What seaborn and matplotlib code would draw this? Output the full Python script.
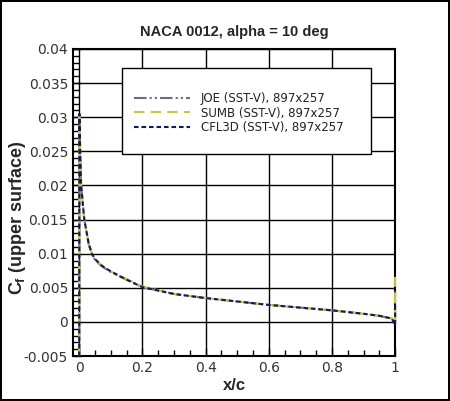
import numpy as np
import pandas as pd
import matplotlib
matplotlib.use("Agg")
import matplotlib.pyplot as plt
from matplotlib.patches import Rectangle
from matplotlib.ticker import MultipleLocator
import seaborn as sns

# Cf on the upper surface
x_c = [0.0, 0.0005, 0.002, 0.006, 0.016, 0.03, 0.04, 0.05, 0.07, 0.1,
       0.15, 0.2, 0.3, 0.4, 0.5, 0.6, 0.7, 0.8, 0.9, 0.95, 0.99, 1.0, 1.0]
cf_joe = [-0.005, 0.0303, 0.0268, 0.0200, 0.0150, 0.0114, 0.0099, 0.0091,
          0.0082, 0.0073, 0.0062, 0.0051, 0.0041, 0.0035, 0.0030, 0.0025,
          0.0021, 0.0017, 0.0012, 0.0009, 0.0005, -0.0004, 0.0045]
cf_sumb = [-0.005, 0.0300, 0.0265, 0.0198, 0.0150, 0.0115, 0.0100, 0.0092,
           0.0083, 0.0074, 0.0063, 0.0052, 0.0041, 0.0035, 0.0030, 0.0025,
           0.0021, 0.0017, 0.0012, 0.0009, 0.0005, -0.0003, 0.0066]
cf_cfl3d = [-0.005, 0.0305, 0.0270, 0.0200, 0.0150, 0.0115, 0.0100, 0.0092,
            0.0083, 0.0074, 0.0062, 0.0051, 0.0041, 0.0035, 0.0030, 0.0025,
            0.0021, 0.0017, 0.0012, 0.0009, 0.0005, -0.0005, 0.0025]

labels = ["JOE (SST-V), 897x257", "SUMB (SST-V), 897x257", "CFL3D (SST-V), 897x257"]
colors = ["#6e6e6e", "#c8c83c", "#16165e"]
dashes = [(6, 1.5, 1, 1.5, 1, 1.5), (5, 3), (2.2, 1.4)]

sns.set_style("white")
plt.rcParams["font.family"] = ["DejaVu Sans"]
plt.rcParams["mathtext.fontset"] = "custom"
plt.rcParams["mathtext.rm"] = "Liberation Sans:bold"
plt.rcParams["mathtext.it"] = "Liberation Sans:bold"

fig = plt.figure(figsize=(4.5, 4.01), dpi=100, linewidth=1.5, edgecolor="black")
ax = fig.add_axes([0.162, 0.112, 0.716, 0.766])

for cf, lab, col, d in zip([cf_joe, cf_sumb, cf_cfl3d], labels, colors, dashes):
    df = pd.DataFrame({"x": x_c, "cf": cf})
    sns.lineplot(data=df, x="x", y="cf", sort=False, estimator=None, ax=ax,
                 color=col, lw=1.5, label=lab, dashes=False)
    ax.lines[-1].set_dashes(d)
    # draw over the spines so the trailing-edge spike at x/c = 1 shows
    ax.lines[-1].set_zorder(3)
    ax.lines[-1].set_clip_on(False)

ax.set_xlim(-0.02, 1.0)
ax.set_ylim(-0.005, 0.04)
ax.xaxis.set_minor_locator(MultipleLocator(0.05))
ax.yaxis.set_minor_locator(MultipleLocator(0.001))
ax.set_xticks([0, 0.2, 0.4, 0.6, 0.8, 1.0])
ax.set_xticklabels(["0", "0.2", "0.4", "0.6", "0.8", "1"])
yt = [-0.005, 0, 0.005, 0.01, 0.015, 0.02, 0.025, 0.03, 0.035, 0.04]
ax.set_yticks(yt)
ax.set_yticklabels(["-0.005", "0", "0.005", "0.01", "0.015", "0.02",
                    "0.025", "0.03", "0.035", "0.04"])
ax.grid(True, which="major", color="black", lw=1)
ax.tick_params(which="both", direction="in", bottom=True, left=True,
               top=False, right=False, labelsize=10, colors="black",
               labelcolor="#333333")
ax.tick_params(which="major", length=6, width=1)
ax.tick_params(which="minor", length=4.5, width=1)
for s in ax.spines.values():
    s.set_color("black")
    s.set_linewidth(1.5)

ax.set_title("NACA 0012, alpha = 10 deg", fontsize=10.5, fontweight="bold",
             family="Liberation Sans", pad=9)
ax.set_xlabel("x/c", fontsize=12, fontweight="bold", family="Liberation Sans",
              labelpad=2)
ax.set_ylabel(r"$C_f$ (upper surface)", fontsize=13, fontweight="bold",
              family="Liberation Sans")
ax.yaxis.set_label_coords(-0.14, 0.45)

# legend box drawn separately so its padding can match the reference
box = Rectangle((0.152, 0.658), 0.773, 0.28, transform=ax.transAxes,
                facecolor="white", edgecolor="black", lw=1, zorder=5)
ax.add_patch(box)
leg = ax.legend(loc="center left", bbox_to_anchor=(0.19, 0.791),
                frameon=False, fontsize=8.5, handlelength=4.75,
                handletextpad=0.9, borderpad=0, labelspacing=0.15,
                borderaxespad=0)
leg.set_zorder(6)
for t in leg.get_texts():
    t.set_color("#222222")

fig.savefig("out.png", dpi=100, edgecolor="black")
